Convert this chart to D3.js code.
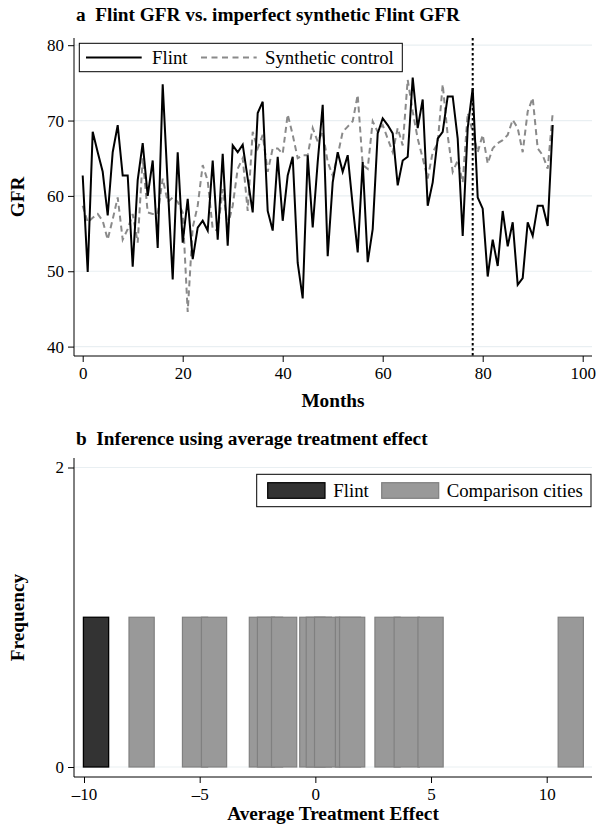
<!DOCTYPE html>
<html><head><meta charset="utf-8">
<script src="https://cdn.jsdelivr.net/npm/d3@7/dist/d3.min.js"></script>
<style>
body{margin:0;background:#fff}
text{font-family:"Liberation Serif","Times New Roman",serif;fill:#000}
</style>
</head><body>
<svg id="c" width="597" height="834"></svg>
<script>
// ---------- DATA ----------
const flintGFR = [62.7,49.9,68.5,65.8,63.2,57.4,65.8,69.4,62.7,62.7,
  50.6,62.1,67.0,60.0,64.7,53.1,74.8,61.5,48.9,65.8,
  53.8,59.6,51.6,55.8,56.7,55.4,64.7,54.2,65.6,53.4,
  66.7,65.8,66.8,62.3,57.8,71.0,72.5,58.0,55.4,65.2,
  56.7,62.7,65.2,51.1,46.4,65.4,55.8,64.5,72.1,52.0,
  61.8,65.8,63.2,65.4,58.7,52.5,64.5,51.2,55.6,68.3,
  70.3,69.4,68.3,61.4,64.7,65.2,75.7,69.0,72.8,58.7,
  61.8,67.6,68.5,73.2,73.2,67.6,54.7,69.0,74.3,59.8,
  58.3,49.3,54.2,50.7,58.0,53.3,56.5,48.2,49.1,56.5,
  54.7,58.7,58.7,56.0,69.4];
const syntheticGFR = [58.7,56.5,57.1,57.6,56.7,54.2,56.9,59.8,54.2,55.6,
  57.6,53.8,65.0,57.8,57.6,57.6,62.3,59.2,59.8,59.2,
  57.8,44.6,55.8,58.7,64.1,62.0,55.6,55.4,60.9,56.0,
  58.7,63.6,65.0,58.0,68.5,66.3,68.1,63.2,66.3,66.3,
  65.6,70.8,68.1,65.0,65.4,65.4,69.0,67.2,68.5,64.5,
  62.7,65.4,68.5,69.2,69.9,73.4,64.1,63.6,69.9,68.5,
  69.4,67.6,65.8,69.0,66.7,75.4,71.2,67.6,65.0,62.3,
  65.8,67.0,74.8,68.0,63.2,64.7,61.8,71.0,68.5,65.8,
  68.1,64.3,66.3,67.0,67.4,68.1,70.1,69.0,65.8,71.2,
  73.0,66.3,65.4,63.6,71.0];
const treatmentMonth = 78;
const xTicksA = [0,20,40,60,80,100];
const yTicksA = [40,50,60,70,80];
const seriesNames = ["Flint","Synthetic control"];

const flintATE = [-9.48];
const comparisonATE = [-7.51,-5.20,-4.38,-2.31,-1.96,-1.35,-0.13,0.15,0.51,1.41,1.59,3.12,3.95,4.98,11.04];
const atefreq = 1;
const xTicksB = [-10,-5,0,5,10];
const yTicksB = [0,2];
const legendB = ["Flint","Comparison cities"];

// ---------- LAYOUT ----------
const svg = d3.select("#c");
const gridCol = "#e9eff2";
const A = {l:74, r:592, t:38, b:356};
const B = {l:74, r:592, t:458, b:777};
const fsTick = 17, fsLeg = 18.8, fsTitle = 19.3;

const xA = d3.scaleLinear().domain([0,100]).range([82.7,582.7]);
const yA = d3.scaleLinear().domain([40,80]).range([346.6,45.2]);
const xB = d3.scaleLinear().domain([-10,10]).range([84,546.7]);
const yB = d3.scaleLinear().domain([0,2]).range([767,467.5]);
const binW = 1.09;

function styleAxis(g){
  g.select(".domain").remove();
  g.selectAll(".tick line").attr("stroke","#000").attr("stroke-width",1);
  g.selectAll(".tick text").style("font-family","Liberation Serif").style("font-size",fsTick+"px").attr("fill","#000");
}
const fmtMinus = d => d < 0 ? "\u2013" + Math.abs(d) : String(d);

// ---------- PANEL A ----------
svg.append("text").attr("x",76).attr("y",21).attr("font-weight","bold").attr("font-size",fsTitle+"px")
  .attr("xml:space","preserve").text("a  Flint GFR vs. imperfect synthetic Flint GFR");

const ga = svg.append("g");
ga.selectAll("line.grid").data(yTicksA).join("line")
  .attr("x1",A.l).attr("x2",A.r).attr("y1",d=>yA(d)).attr("y2",d=>yA(d))
  .attr("stroke",gridCol).attr("stroke-width",1.2);

const lineA = d3.line().x((d,i)=>xA(i)).y(d=>yA(d));
ga.append("path").datum(syntheticGFR).attr("d",lineA).attr("fill","none")
  .attr("stroke","#8a8a8a").attr("stroke-width",2).attr("stroke-dasharray","6,4");
ga.append("path").datum(flintGFR).attr("d",lineA).attr("fill","none")
  .attr("stroke","#000").attr("stroke-width",2).attr("stroke-linejoin","miter");

ga.append("line").attr("x1",xA(treatmentMonth)).attr("x2",xA(treatmentMonth))
  .attr("y1",A.t).attr("y2",A.b).attr("stroke","#000").attr("stroke-width",2).attr("stroke-dasharray","2.5,2.5");

ga.append("g").attr("transform",`translate(${A.l},0)`)
  .call(d3.axisLeft(yA).tickValues(yTicksA).tickSize(6).tickPadding(4)).call(styleAxis);
ga.append("g").attr("transform",`translate(0,${A.b})`)
  .call(d3.axisBottom(xA).tickValues(xTicksA).tickSize(6).tickPadding(5)).call(styleAxis);
ga.append("line").attr("x1",A.l).attr("x2",A.l).attr("y1",A.t).attr("y2",A.b).attr("stroke","#000");
ga.append("line").attr("x1",A.l).attr("x2",A.r).attr("y1",A.b).attr("y2",A.b).attr("stroke","#000");

svg.append("text").attr("x",(A.l+A.r)/2).attr("y",407).attr("text-anchor","middle")
  .attr("font-weight","bold").attr("font-size",fsTitle+"px").text("Months");
svg.append("text").attr("transform",`translate(24,${(A.t+A.b)/2}) rotate(-90)`).attr("text-anchor","middle")
  .attr("font-weight","bold").attr("font-size",fsTitle+"px").text("GFR");

// legend A
const lgA = svg.append("g");
lgA.append("rect").attr("x",79.3).attr("y",43.3).attr("width",323).attr("height",28.4)
  .attr("fill","#fff").attr("stroke","#000").attr("stroke-width",1);
lgA.append("line").attr("x1",86).attr("x2",141.7).attr("y1",57.5).attr("y2",57.5).attr("stroke","#000").attr("stroke-width",2);
lgA.append("text").attr("x",152).attr("y",63.5).attr("font-size",fsLeg+"px").text(seriesNames[0]);
lgA.append("line").attr("x1",201).attr("x2",256.7).attr("y1",57.5).attr("y2",57.5).attr("stroke","#8a8a8a")
  .attr("stroke-width",2).attr("stroke-dasharray","6,4.5");
lgA.append("text").attr("x",265).attr("y",63.5).attr("font-size",fsLeg+"px").text(seriesNames[1]);

// ---------- PANEL B ----------
svg.append("text").attr("x",76).attr("y",445).attr("font-weight","bold").attr("font-size",fsTitle+"px")
  .attr("xml:space","preserve").text("b  Inference using average treatment effect");

const gb = svg.append("g");
gb.selectAll("line.grid").data(yTicksB).join("line")
  .attr("x1",B.l).attr("x2",B.r).attr("y1",d=>yB(d)).attr("y2",d=>yB(d))
  .attr("stroke",gridCol).attr("stroke-width",1.2);

gb.selectAll("rect.flint").data(flintATE).join("rect")
  .attr("x",d=>xB(d-binW/2)).attr("width",d=>xB(d+binW/2)-xB(d-binW/2))
  .attr("y",yB(atefreq)).attr("height",yB(0)-yB(atefreq))
  .attr("fill","#333").attr("stroke","#000").attr("stroke-width",1.3);
gb.selectAll("rect.comp").data(comparisonATE).join("rect")
  .attr("x",d=>xB(d-binW/2)).attr("width",d=>xB(d+binW/2)-xB(d-binW/2))
  .attr("y",yB(atefreq)).attr("height",yB(0)-yB(atefreq))
  .attr("fill","#999").attr("stroke","#808080").attr("stroke-width",1.2);

gb.append("g").attr("transform",`translate(${B.l},0)`)
  .call(d3.axisLeft(yB).tickValues(yTicksB).tickFormat(d3.format("d")).tickSize(6).tickPadding(4)).call(styleAxis);
gb.append("g").attr("transform",`translate(0,${B.b})`)
  .call(d3.axisBottom(xB).tickValues(xTicksB).tickFormat(fmtMinus).tickSize(6).tickPadding(5)).call(styleAxis);
gb.append("line").attr("x1",B.l).attr("x2",B.l).attr("y1",B.t).attr("y2",B.b).attr("stroke","#000");
gb.append("line").attr("x1",B.l).attr("x2",B.r).attr("y1",B.b).attr("y2",B.b).attr("stroke","#000");

svg.append("text").attr("x",(B.l+B.r)/2).attr("y",820).attr("text-anchor","middle")
  .attr("font-weight","bold").attr("font-size",fsTitle+"px").text("Average Treatment Effect");
svg.append("text").attr("transform",`translate(24,${(B.t+B.b)/2}) rotate(-90)`).attr("text-anchor","middle")
  .attr("font-weight","bold").attr("font-size",fsTitle+"px").text("Frequency");

// legend B
const lgB = svg.append("g");
lgB.append("rect").attr("x",256.7).attr("y",474.3).attr("width",334.3).attr("height",32.4)
  .attr("fill","#fff").attr("stroke","#000").attr("stroke-width",1);
lgB.append("rect").attr("x",267.7).attr("y",482.7).attr("width",57.3).attr("height",15.6)
  .attr("fill","#333").attr("stroke","#000").attr("stroke-width",1.2);
lgB.append("text").attr("x",333.3).attr("y",497).attr("font-size",fsLeg+"px").text(legendB[0]);
lgB.append("rect").attr("x",381.7).attr("y",482.7).attr("width",57).attr("height",15.6)
  .attr("fill","#999").attr("stroke","#808080").attr("stroke-width",1.2);
lgB.append("text").attr("x",446.7).attr("y",497).attr("font-size",fsLeg+"px").text(legendB[1]);
</script>
</body></html>
